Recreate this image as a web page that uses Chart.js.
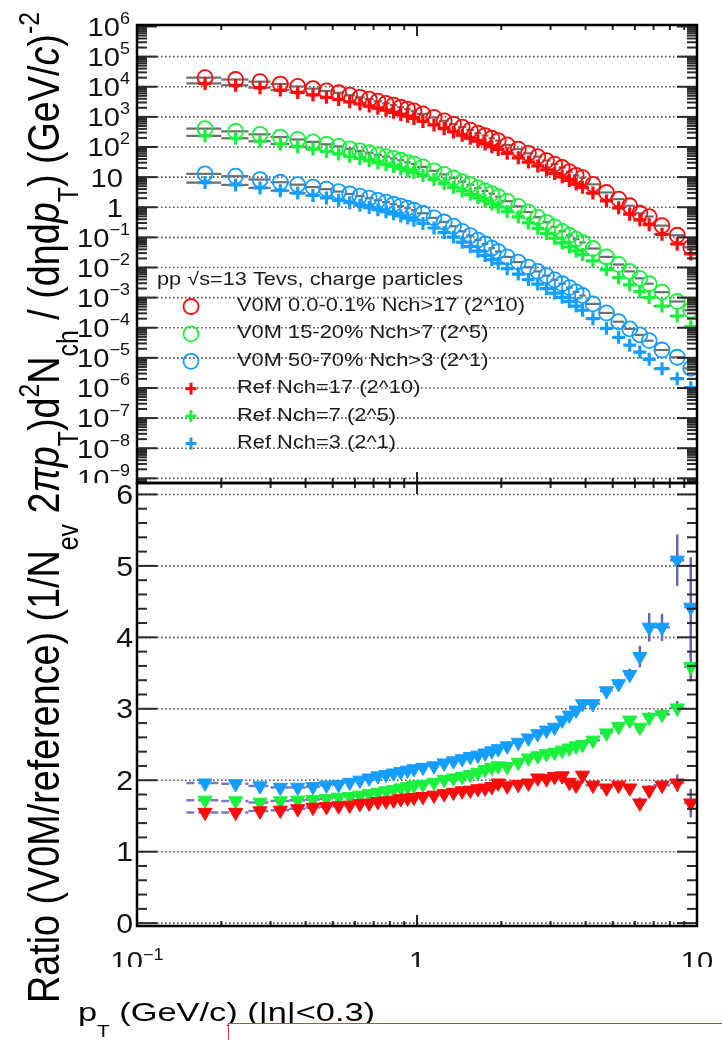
<!DOCTYPE html>
<html>
<head>
<meta charset="utf-8">
<title>pp 13 TeV charged-particle spectra, V0M classes vs reference</title>
<script src="https://cdn.jsdelivr.net/npm/chart.js@4.4.1/dist/chart.umd.min.js"></script>
<style>
  html, body { margin: 0; padding: 0; background: #fff; }
  #wrap { position: relative; width: 722px; height: 1040px; overflow: hidden; background: #fff; }
  canvas { display: block; }
</style>
</head>
<body>
<div id="wrap"><canvas id="spectra" width="722" height="1040"></canvas></div>
<script>
// ===== Data =====
const ptCenters = [0.175, 0.225, 0.275, 0.325, 0.375, 0.425, 0.475, 0.525, 0.575, 0.625, 0.675, 0.725, 0.775, 0.825, 0.875, 0.925, 0.975,
    1.05, 1.15, 1.25, 1.35, 1.45, 1.55, 1.65, 1.75, 1.85, 1.95,
    2.1, 2.3, 2.5, 2.7, 2.9, 3.1, 3.3, 3.5, 3.7, 3.9,
    4.25, 4.75, 5.25, 5.75, 6.25, 6.75, 7.5, 8.5, 9.5];
const ptEdges = [0.15, 0.2, 0.25, 0.3, 0.35, 0.4, 0.45, 0.5, 0.55, 0.6, 0.65, 0.7, 0.75, 0.8, 0.85, 0.9, 0.95, 1.0,
    1.1, 1.2, 1.3, 1.4, 1.5, 1.6, 1.7, 1.8, 1.9, 2.0,
    2.2, 2.4, 2.6, 2.8, 3.0, 3.2, 3.4, 3.6, 3.8, 4.0,
    4.5, 5.0, 5.5, 6.0, 6.5, 7.0, 8.0, 9.0, 10.0];

// upper pad: log10 of the scaled yields
const v0mTopLog = [4.30, 4.24, 4.17, 4.09, 4.01, 3.94, 3.86, 3.80, 3.72, 3.65, 3.59, 3.52, 3.45, 3.39, 3.32, 3.26, 3.20,
    3.10, 2.98, 2.87, 2.76, 2.66, 2.56, 2.46, 2.38, 2.29, 2.21,
    2.07, 1.93, 1.79, 1.68, 1.55, 1.43, 1.32, 1.18, 1.06, 0.98,
    0.76, 0.49, 0.27, 0.05, -0.20, -0.31, -0.61, -0.93, -1.33];
const v0mMidLog = [2.61, 2.52, 2.42, 2.33, 2.25, 2.17, 2.09, 2.02, 1.94, 1.87, 1.81, 1.74, 1.68, 1.62, 1.56, 1.49, 1.44,
    1.34, 1.21, 1.09, 0.97, 0.85, 0.75, 0.64, 0.54, 0.45, 0.35,
    0.20, 0.03, -0.16, -0.33, -0.50, -0.65, -0.80, -0.93, -1.06, -1.17,
    -1.37, -1.65, -1.90, -2.13, -2.36, -2.54, -2.82, -3.13, -3.42];
const v0mLowLog = [1.11, 1.03, 0.92, 0.83, 0.75, 0.67, 0.60, 0.52, 0.44, 0.37, 0.30, 0.23, 0.17, 0.10, 0.04, -0.03, -0.10,
    -0.20, -0.35, -0.49, -0.63, -0.80, -0.94, -1.09, -1.22, -1.36, -1.47,
    -1.65, -1.82, -1.99, -2.13, -2.27, -2.41, -2.54, -2.67, -2.81, -2.93,
    -3.21, -3.51, -3.80, -4.04, -4.24, -4.43, -4.74, -4.98, -5.35];
const refNch17Log = [4.11, 4.05, 3.97, 3.89, 3.81, 3.73, 3.65, 3.58, 3.50, 3.43, 3.36, 3.29, 3.22, 3.15, 3.08, 3.02, 2.95,
    2.85, 2.73, 2.61, 2.50, 2.39, 2.29, 2.19, 2.10, 2.01, 1.92,
    1.79, 1.64, 1.50, 1.37, 1.24, 1.12, 1.01, 0.89, 0.77, 0.66,
    0.47, 0.21, -0.02, -0.23, -0.42, -0.58, -0.90, -1.22, -1.55];
const refNch7Log = [2.37, 2.29, 2.19, 2.10, 2.01, 1.93, 1.85, 1.77, 1.69, 1.62, 1.55, 1.48, 1.41, 1.35, 1.28, 1.21, 1.15,
    1.05, 0.92, 0.79, 0.66, 0.54, 0.43, 0.32, 0.21, 0.11, 0.01,
    -0.14, -0.32, -0.52, -0.70, -0.87, -1.03, -1.18, -1.32, -1.45, -1.57,
    -1.78, -2.07, -2.34, -2.58, -2.80, -3.00, -3.28, -3.61, -3.97];
const refNch3Log = [0.82, 0.74, 0.64, 0.55, 0.47, 0.39, 0.31, 0.23, 0.15, 0.07, -0.01, -0.08, -0.15, -0.22, -0.29, -0.36, -0.43,
    -0.54, -0.69, -0.84, -0.99, -1.16, -1.31, -1.46, -1.60, -1.74, -1.86,
    -2.04, -2.22, -2.40, -2.55, -2.70, -2.85, -2.99, -3.13, -3.28, -3.42,
    -3.70, -4.02, -4.32, -4.58, -4.81, -5.05, -5.36, -5.69, -5.99];

// lower pad: V0M / reference
const ratioTop = [1.55, 1.55, 1.57, 1.58, 1.60, 1.62, 1.63, 1.64, 1.65, 1.67, 1.68, 1.70, 1.71, 1.72, 1.74, 1.75, 1.76,
    1.77, 1.79, 1.81, 1.83, 1.85, 1.86, 1.88, 1.89, 1.91, 1.96,
    1.92, 1.94, 1.96, 2.03, 2.02, 2.05, 2.06, 1.97, 1.93, 2.07,
    1.93, 1.89, 1.93, 1.89, 1.68, 1.86, 1.93, 1.96, 1.68];
const ratioMid = [1.72, 1.71, 1.69, 1.71, 1.72, 1.73, 1.74, 1.76, 1.77, 1.79, 1.81, 1.83, 1.85, 1.87, 1.89, 1.91, 1.93,
    1.94, 1.97, 2.01, 2.03, 2.05, 2.08, 2.11, 2.15, 2.18, 2.20,
    2.19, 2.25, 2.31, 2.34, 2.37, 2.39, 2.42, 2.45, 2.48, 2.50,
    2.56, 2.66, 2.75, 2.84, 2.74, 2.88, 2.92, 3.01, 3.59];
const ratioLow = [1.96, 1.95, 1.92, 1.90, 1.90, 1.91, 1.93, 1.94, 1.97, 2.00, 2.03, 2.06, 2.08, 2.10, 2.12, 2.14, 2.16,
    2.18, 2.20, 2.24, 2.27, 2.30, 2.33, 2.35, 2.38, 2.41, 2.44,
    2.48, 2.53, 2.59, 2.65, 2.70, 2.74, 2.84, 2.91, 2.98, 3.07,
    3.07, 3.25, 3.35, 3.48, 3.73, 4.14, 4.14, 5.08, 4.42];
const ratioTopErr = [0.01, 0.01, 0.01, 0.01, 0.01, 0.01, 0.01, 0.01, 0.01, 0.01, 0.01, 0.01, 0.01, 0.01, 0.01, 0.01, 0.01,
    0.01, 0.01, 0.01, 0.01, 0.01, 0.01, 0.01, 0.01, 0.01, 0.01,
    0.02, 0.02, 0.02, 0.02, 0.02, 0.02, 0.02, 0.02, 0.02, 0.02,
    0.03, 0.04, 0.05, 0.05, 0.08, 0.07, 0.08, 0.12, 0.20];
const ratioMidErr = [0.01, 0.01, 0.01, 0.01, 0.01, 0.01, 0.01, 0.01, 0.01, 0.01, 0.01, 0.01, 0.01, 0.01, 0.01, 0.01, 0.01,
    0.01, 0.01, 0.01, 0.01, 0.01, 0.01, 0.01, 0.01, 0.01, 0.01,
    0.02, 0.02, 0.02, 0.02, 0.02, 0.02, 0.02, 0.02, 0.02, 0.02,
    0.03, 0.04, 0.04, 0.05, 0.06, 0.07, 0.08, 0.10, 0.21];
const ratioLowErr = [0.01, 0.01, 0.01, 0.01, 0.01, 0.01, 0.01, 0.01, 0.01, 0.01, 0.01, 0.01, 0.01, 0.01, 0.01, 0.01, 0.01,
    0.01, 0.01, 0.01, 0.01, 0.01, 0.01, 0.01, 0.01, 0.01, 0.01,
    0.02, 0.02, 0.02, 0.02, 0.02, 0.02, 0.03, 0.03, 0.03, 0.04,
    0.04, 0.05, 0.06, 0.08, 0.15, 0.20, 0.19, 0.36, 0.70];

// axes and labels
const yDecades = [-9, -8, -7, -6, -5, -4, -3, -2, -1, 0, 1, 2, 3, 4, 5, 6];
const ratioTicks = [0, 1, 2, 3, 4, 5, 6];
const xMajors = [0.1, 1, 10];
const legendHeader = "pp \u221As=13 Tevs, charge particles";
const legendLabels = ["V0M 0.0-0.1% Nch>17 (2^10)", "V0M 15-20% Nch>7 (2^5)", "V0M 50-70% Nch>3 (2^1)",
    "Ref Nch=17 (2^10)", "Ref Nch=7 (2^5)", "Ref Nch=3 (2^1)"];

// ===== Styles =====
const RED = "#ff0a0a";
const GREEN = "#18f23a";
const AZURE = "#149eff";
const FONT = '"Liberation Sans", Arial, Helvetica, sans-serif';

const spectraSeries = [
    { label: legendLabels[0], logs: v0mTopLog, color: RED, marker: "circle" },
    { label: legendLabels[1], logs: v0mMidLog, color: GREEN, marker: "circle" },
    { label: legendLabels[2], logs: v0mLowLog, color: AZURE, marker: "circle" },
    { label: legendLabels[3], logs: refNch17Log, color: RED, marker: "cross" },
    { label: legendLabels[4], logs: refNch7Log, color: GREEN, marker: "cross" },
    { label: legendLabels[5], logs: refNch3Log, color: AZURE, marker: "cross" }
];
const ratioSeries = [
    { vals: ratioTop, errs: ratioTopErr, color: RED },
    { vals: ratioMid, errs: ratioMidErr, color: GREEN },
    { vals: ratioLow, errs: ratioLowErr, color: AZURE }
];

// ===== Helpers =====
function setFont(ctx, px, italic) {
    ctx.font = (italic ? "italic " : "") + px.toFixed(2) + "px " + FONT;
}

function line(ctx, x1, y1, x2, y2) {
    ctx.beginPath();
    ctx.moveTo(x1, y1);
    ctx.lineTo(x2, y2);
    ctx.stroke();
}

// rich text: segments {t, k: "sub" | "sup", i: italic}
function richWidth(ctx, segs, px, st) {
    let w = 0;
    segs.forEach(s => {
        setFont(ctx, s.k ? px * st.small : px, s.i);
        w += ctx.measureText(s.t).width;
    });
    return w;
}

function drawRich(ctx, segs, px, x, y, st) {
    let cx = x;
    segs.forEach(s => {
        setFont(ctx, s.k ? px * st.small : px, s.i);
        const dy = s.k === "sub" ? px * st.sub : (s.k === "sup" ? -px * st.sup : 0);
        ctx.fillText(s.t, cx, y + dy);
        cx += ctx.measureText(s.t).width;
    });
}

function drawMarker(ctx, kind, color, x, y) {
    ctx.strokeStyle = color;
    if (kind === "circle") {
        ctx.lineWidth = 1.8;
        ctx.beginPath();
        ctx.arc(x, y, 7.5, 0, Math.PI * 2);
        ctx.stroke();
    } else {
        ctx.lineWidth = 3;
        line(ctx, x - 5.5, y, x + 5.5, y);
        line(ctx, x, y - 6, x, y + 6);
    }
}

const tickSt = { small: 0.62, sub: 0.3, sup: 0.46 };
const titleSt = { small: 0.66, sub: 0.42, sup: 0.45 };

const yTitleSegs = [
    { t: "Ratio (V0M/reference) (1/N" }, { t: "ev", k: "sub" },
    { t: " 2" }, { t: "\u03C0p", i: true }, { t: "T", k: "sub" },
    { t: ")d" }, { t: "2", k: "sup" }, { t: "N" }, { t: "ch", k: "sub" },
    { t: " / (d\u03B7d" }, { t: "p", i: true }, { t: "T", k: "sub" },
    { t: ") (GeV/" }, { t: "c", i: true }, { t: ")" }, { t: "-2", k: "sup" }
];
const xTitleSegs = [{ t: "p" }, { t: "T", k: "sub" }, { t: " (GeV/c) (|\u03B7|<0.3)" }];

// ===== ROOT-like pads plugin =====
const rootPads = {
    id: "rootPads",
    beforeDatasetsDraw(chart) {
        const { ctx, chartArea: a } = chart;
        const { x, ySpec, yRatio } = chart.scales;
        ctx.save();

        // dotted grid
        ctx.strokeStyle = "#555";
        ctx.lineWidth = 1.6;
        ctx.setLineDash([1.6, 2.4]);
        yDecades.forEach(e => {
            const py = ySpec.getPixelForValue(Math.pow(10, e));
            if (py > ySpec.top + 2 && py < ySpec.bottom - 1) line(ctx, a.left, py, a.right, py);
        });
        ratioTicks.forEach(v => {
            const py = yRatio.getPixelForValue(v);
            line(ctx, a.left, py, a.right, py);
        });
        ctx.setLineDash([]);

        // horizontal bin-width bars of the spectra
        ctx.strokeStyle = "#6e6e6e";
        ctx.lineWidth = 2.2;
        spectraSeries.forEach(s => {
            s.logs.forEach((lg, i) => {
                const py = ySpec.getPixelForValue(Math.pow(10, lg));
                line(ctx, x.getPixelForValue(ptEdges[i]), py, x.getPixelForValue(ptEdges[i + 1]), py);
            });
        });

        // ratio error bars
        ratioSeries.forEach(s => {
            s.vals.forEach((v, i) => {
                const py = yRatio.getPixelForValue(v);
                const px = x.getPixelForValue(ptCenters[i]);
                ctx.strokeStyle = "#7878c4";
                ctx.lineWidth = 2.5;
                ctx.setLineDash([8, 4]);
                line(ctx, x.getPixelForValue(ptEdges[i]), py, x.getPixelForValue(ptEdges[i + 1]), py);
                ctx.setLineDash([]);
                ctx.strokeStyle = "#6666b2";
                line(ctx, px, yRatio.getPixelForValue(v - s.errs[i]), px, yRatio.getPixelForValue(v + s.errs[i]));
            });
        });
        ctx.restore();
    },
    afterDatasetsDraw(chart) {
        const { ctx, chartArea: a } = chart;
        const { x, ySpec, yRatio } = chart.scales;
        ctx.save();

        // ticks
        ctx.strokeStyle = "#2a2a2a";
        ctx.lineWidth = 2;
        for (let e = -10; e <= 6; e++) {
            for (let m = 1; m <= 9; m++) {
                const v = m * Math.pow(10, e);
                if (v < ySpec.min || v > ySpec.max) continue;
                const py = ySpec.getPixelForValue(v);
                const len = m === 1 ? 20 : 10;
                line(ctx, a.left, py, a.left + len, py);
                line(ctx, a.right - len, py, a.right, py);
            }
        }
        for (let k = 0; k * 0.2 <= yRatio.max; k++) {
            const py = yRatio.getPixelForValue(k * 0.2);
            const len = k % 5 === 0 ? 20 : 10;
            line(ctx, a.left, py, a.left + len, py);
            line(ctx, a.right - len, py, a.right, py);
        }
        const hEdges = [[ySpec.top, 1], [ySpec.bottom, -1], [yRatio.top, 1], [yRatio.bottom, -1]];
        for (let e = -1; e <= 1; e++) {
            for (let m = 1; m <= 9; m++) {
                const v = m * Math.pow(10, e);
                if (v < x.min * 0.999 || v > x.max * 1.001) continue;
                const px = x.getPixelForValue(v);
                const len = m === 1 ? 11 : 5;
                hEdges.forEach(([py, dir]) => line(ctx, px, py, px, py + dir * len));
            }
        }

        // frames
        ctx.strokeStyle = "#000";
        ctx.lineWidth = 2.5;
        ctx.strokeRect(a.left, ySpec.top, a.right - a.left, ySpec.bottom - ySpec.top);
        ctx.strokeRect(a.left, yRatio.top, a.right - a.left, yRatio.bottom - yRatio.top);

        // tick labels
        ctx.fillStyle = "#111";
        ctx.textBaseline = "alphabetic";
        const lsx = 1.12;
        ctx.save();
        ctx.beginPath();
        ctx.rect(0, 0, a.left, ySpec.bottom);
        ctx.clip();
        yDecades.forEach(e => {
            const py = ySpec.getPixelForValue(Math.pow(10, e));
            let segs, right;
            if (e === 0) { segs = [{ t: "1" }]; right = 123; }
            else if (e === 1) { segs = [{ t: "10" }]; right = 123; }
            else { segs = [{ t: "10" }, { t: (e < 0 ? "\u2212" + (-e) : String(e)), k: "sup" }]; right = 130; }
            const w = richWidth(ctx, segs, 26, tickSt) * lsx;
            ctx.save();
            ctx.translate(right - w, py + 9.4);
            ctx.scale(lsx, 1);
            drawRich(ctx, segs, 26, 0, 0, tickSt);
            ctx.restore();
        });
        ctx.restore();

        ratioTicks.forEach(v => {
            const py = yRatio.getPixelForValue(v);
            setFont(ctx, 27);
            const w = ctx.measureText(String(v)).width * lsx;
            ctx.save();
            ctx.translate(133 - w, py + 9.7);
            ctx.scale(lsx, 1);
            ctx.fillText(String(v), 0, 0);
            ctx.restore();
        });

        ctx.save();
        ctx.beginPath();
        ctx.rect(0, yRatio.bottom + 2, chart.width, 967 - yRatio.bottom - 2);
        ctx.clip();
        xMajors.forEach(v => {
            const px = x.getPixelForValue(v);
            const segs = v < 1 ? [{ t: "10" }, { t: "\u22121", k: "sup" }] : [{ t: String(v) }];
            const w = richWidth(ctx, segs, 26, tickSt) * lsx;
            ctx.save();
            ctx.translate(px - w / 2, 969.6);
            ctx.scale(lsx, 1);
            drawRich(ctx, segs, 26, 0, 0, { small: 0.62, sub: 0.3, sup: 0.37 });
            ctx.restore();
        });
        ctx.restore();

        // legend
        ctx.fillStyle = "#1c1c1c";
        setFont(ctx, 18);
        const hw = ctx.measureText(legendHeader).width;
        ctx.save();
        ctx.translate(157, 285);
        ctx.scale(306 / hw, 1);
        ctx.fillText(legendHeader, 0, 0);
        ctx.restore();
        setFont(ctx, 18);
        const esx = 288 / ctx.measureText(legendLabels[0]).width;
        spectraSeries.forEach((s, i) => {
            const base = 311 + i * 27.4;
            drawMarker(ctx, s.marker, s.color, 191, base - 4.5);
            ctx.fillStyle = "#1c1c1c";
            setFont(ctx, 18);
            ctx.save();
            ctx.translate(237, base);
            ctx.scale(esx, 1);
            ctx.fillText(s.label, 0, 0);
            ctx.restore();
        });

        // y title, rotated, spanning both pads
        ctx.fillStyle = "#000";
        const yLen = richWidth(ctx, yTitleSegs, 37, titleSt);
        const yPx = 37 * 991 / yLen;
        ctx.save();
        ctx.translate(59, 1003);
        ctx.scale(1.2, 1);
        ctx.rotate(-Math.PI / 2);
        drawRich(ctx, yTitleSegs, yPx, 0, 0, titleSt);
        ctx.restore();

        // x title
        const xSt = { small: 0.6, sub: 0.62, sup: 0.45 };
        const xLen = richWidth(ctx, xTitleSegs, 26.5, xSt);
        ctx.save();
        ctx.translate(78, 1021);
        ctx.scale(297 / xLen, 1);
        drawRich(ctx, xTitleSegs, 26.5, 0, 0, xSt);
        ctx.restore();

        // red box at the bottom edge
        ctx.fillStyle = "#fff";
        ctx.fillRect(228, 1023, 520, 40);
        ctx.strokeStyle = "#e23b3b";
        ctx.lineWidth = 1;
        ctx.strokeRect(228.5, 1023.5, 600, 60);

        ctx.restore();
    }
};

// ===== Datasets =====
function spectrumPoints(logs) {
    return ptCenters.map((pt, i) => ({ x: pt, y: Math.pow(10, logs[i]) }));
}

function ratioPoints(vals) {
    return ptCenters.map((pt, i) => ({ x: pt, y: vals[i] }));
}

const datasets = [];
spectraSeries.forEach((s, i) => {
    const isCircle = s.marker === "circle";
    datasets.push({
        label: s.label,
        data: spectrumPoints(s.logs),
        yAxisID: "ySpec",
        showLine: false,
        pointStyle: isCircle ? "circle" : "cross",
        pointRadius: isCircle ? 7.5 : 6.5,
        pointBorderWidth: isCircle ? 1.8 : 3.2,
        pointBorderColor: s.color,
        pointBackgroundColor: "rgba(0,0,0,0)",
        order: isCircle ? 4 + i : i - 2
    });
});
ratioSeries.forEach((s, i) => {
    datasets.push({
        label: "ratio " + i,
        data: ratioPoints(s.vals),
        yAxisID: "yRatio",
        showLine: false,
        pointStyle: "triangle",
        pointRotation: 180,
        pointRadius: 8.2,
        pointBorderWidth: 1,
        pointBorderColor: s.color,
        pointBackgroundColor: s.color,
        order: 1 + i
    });
});

const hiddenAxis = {
    ticks: { display: false },
    grid: { display: false, drawTicks: false },
    border: { display: false }
};

new Chart(document.getElementById("spectra"), {
    type: "scatter",
    data: { datasets },
    options: {
        responsive: false,
        animation: false,
        devicePixelRatio: 1,
        events: [],
        layout: { padding: { left: 137, right: 25, top: 25, bottom: 114 } },
        plugins: { legend: { display: false }, tooltip: { enabled: false } },
        scales: {
            x: Object.assign({ type: "logarithmic", min: 0.1, max: 10, afterFit: s => { s.height = 0; } }, hiddenAxis),
            ySpec: Object.assign({
                type: "logarithmic", position: "left", min: Math.pow(10, -9.13), max: Math.pow(10, 6.05),
                stack: "pads", stackWeight: 458, weight: 2, afterFit: s => { s.width = 0; }
            }, hiddenAxis),
            yRatio: Object.assign({
                type: "linear", position: "left", min: -0.04, max: 6.16,
                stack: "pads", stackWeight: 443, weight: 1, afterFit: s => { s.width = 0; }
            }, hiddenAxis)
        }
    },
    plugins: [rootPads]
});
</script>
</body>
</html>
